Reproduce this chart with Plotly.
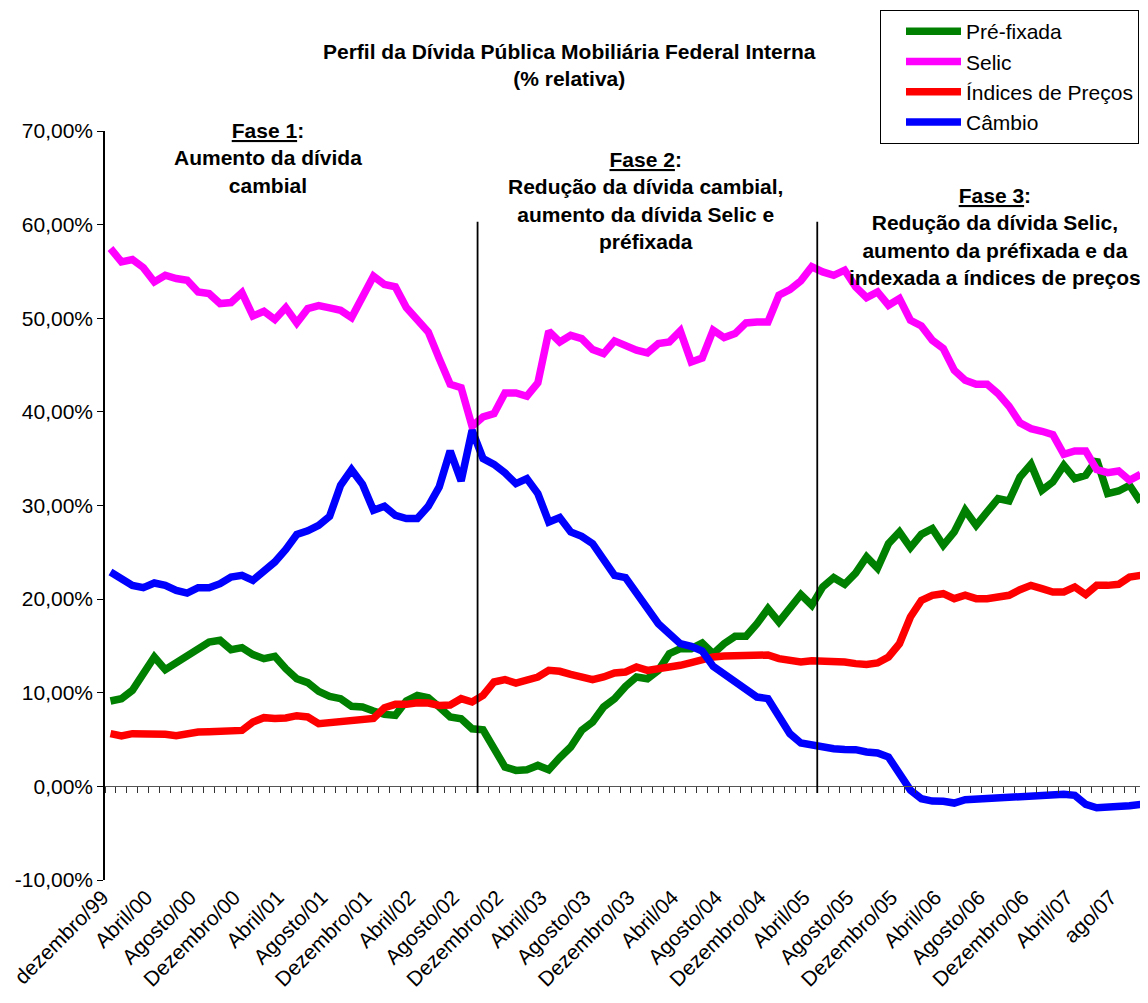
import plotly.graph_objects as go

# ---------------- data ----------------
MONTH_NAMES = ["jan", "fev", "mar", "abr", "mai", "jun", "jul", "ago", "set", "out", "nov", "dez"]
months = ["dez/99"] + [f"{MONTH_NAMES[m]}/{str(y)[2:]}" for y in range(2000, 2008) for m in range(12)]
months = months[:95]  # dez/99 .. out/07

TICK_LABELS = ["dezembro/99", "Abril/00", "Agosto/00", "Dezembro/00", "Abril/01", "Agosto/01",
               "Dezembro/01", "Abril/02", "Agosto/02", "Dezembro/02", "Abril/03", "Agosto/03",
               "Dezembro/03", "Abril/04", "Agosto/04", "Dezembro/04", "Abril/05", "Agosto/05",
               "Dezembro/05", "Abril/06", "Agosto/06", "Dezembro/06", "Abril/07", "ago/07"]

Y_TICKS = [-10, 0, 10, 20, 30, 40, 50, 60, 70]

pre_fixada = [9.12, 9.37, 10.26, 12.22, 13.82, 12.46, 13.18, 13.82, 14.71, 15.42,
              15.60, 14.60, 14.82, 14.07, 13.64, 13.89, 12.57, 11.50, 11.08, 10.15,
              9.62, 9.37, 8.55, 8.48, 8.05, 7.69, 7.59, 9.12, 9.72, 9.47,
              8.48, 7.41, 7.23, 6.15, 6.05, 4.20, 2.07, 1.71, 1.78, 2.24,
              1.78, 3.06, 4.20, 5.98, 6.87, 8.48, 9.37, 10.68, 11.68, 11.50,
              12.39, 14.17, 14.71, 14.71, 15.31, 14.17, 15.24, 16.03, 16.03, 17.38,
              18.98, 17.56, 19.16, 20.48, 19.34, 21.30, 22.29, 21.58, 22.79, 24.50,
              23.30, 25.93, 27.17, 25.50, 26.92, 27.53, 25.75, 27.17, 29.49, 27.88,
              29.31, 30.73, 30.48, 33.05, 34.40, 31.62, 32.51, 34.29, 32.87, 33.23,
              34.90, 31.27, 31.55, 32.16, 30.38]

selic = [57.45, 56.02, 56.27, 55.41, 53.88, 54.59, 54.24, 54.06, 52.81, 52.63,
         51.57, 51.67, 52.74, 50.25, 50.75, 49.86, 51.14, 49.50, 51.03, 51.35,
         51.10, 50.85, 50.07, 52.10, 54.49, 53.60, 53.35, 51.14, 49.86, 48.54,
         45.69, 42.95, 42.59, 38.45, 39.46, 39.81, 42.02, 42.02, 41.67, 43.09,
         48.61, 47.47, 48.18, 47.83, 46.65, 46.22, 47.58, 47.01, 46.58, 46.30,
         47.30, 47.47, 48.65, 45.33, 45.76, 48.72, 47.93, 48.36, 49.50, 49.61,
         49.61, 52.46, 53.06, 53.99, 55.50, 54.95, 54.59, 55.13, 53.35, 52.21,
         52.81, 51.39, 52.10, 49.79, 49.18, 47.65, 46.76, 44.44, 43.38, 42.95,
         42.95, 41.95, 40.60, 38.82, 38.21, 37.93, 37.57, 35.47, 35.82, 35.82,
         33.83, 33.51, 33.69, 32.69, 33.33]

indices_precos = [5.63, 5.38, 5.63, 5.63, 5.70, 5.56, 5.41, 5.63, 5.80, 5.84,
                  5.88, 5.91, 5.98, 6.87, 7.34, 7.26, 7.30, 7.55, 7.41, 6.70,
                  6.84, 6.87, 6.98, 7.23, 7.26, 8.40, 8.76, 8.76, 8.94, 8.90,
                  8.65, 8.69, 9.37, 9.01, 9.72, 11.15, 11.40, 11.04, 11.43, 11.68,
                  12.39, 12.29, 11.97, 11.61, 11.40, 11.68, 12.11, 12.22, 12.75, 12.39,
                  12.57, 12.57, 12.93, 13.21, 13.53, 13.82, 13.92, 13.96, 13.96, 14.03,
                  14.03, 13.64, 13.46, 13.28, 13.42, 13.42, 13.46, 13.28, 13.11, 13.03,
                  13.18, 13.82, 15.24, 18.09, 19.87, 20.41, 20.58, 20.05, 20.41, 20.05,
                  20.05, 20.16, 20.41, 21.01, 21.47, 21.12, 20.76, 20.76, 21.30, 20.48,
                  21.47, 21.47, 21.58, 22.36, 22.54]

cambio = [22.90, 22.19, 21.47, 21.22, 21.72, 21.47, 20.94, 20.65, 21.22, 21.22,
          21.65, 22.36, 22.54, 22.01, 22.90, 23.97, 25.30, 26.90, 27.30, 27.88,
          28.85, 32.16, 33.83, 32.26, 29.49, 29.91, 28.95, 28.60, 28.60, 29.91,
          31.98, 35.83, 32.62, 38.03, 35.01, 34.40, 33.48, 32.34, 32.87, 31.27,
          28.24, 28.71, 27.17, 26.71, 25.93, 24.40, 22.54, 22.29, 20.58, 19.16,
          17.38, 16.31, 15.24, 14.96, 14.46, 12.82, 11.97, 11.25, 10.26, 9.54,
          9.37, 7.41, 5.63, 4.63, 4.40, 4.10, 4.02, 3.95, 3.92, 3.67,
          3.56, 3.13, 1.35, -0.40, -1.32, -1.57, -1.60, -1.78, -1.42, -1.35,
          -1.32, -1.21, -1.03, -0.96, -0.93, -0.89, -0.85, -0.85, -0.96, -1.92,
          -2.28, -2.21, -2.28, -2.07, -1.92]

SERIES = [("Pré-fixada", pre_fixada, "#008000"),
          ("Selic", selic, "#FF00FF"),
          ("Índices de Preços", indices_precos, "#FF0000"),
          ("Câmbio", cambio, "#0000FF")]

PHASE_BOUNDARIES = ["set/02", "abr/05"]  # vertical lines drawn just after these months

# ---------------- layout geometry ----------------
OFF = 8                      # page body margin added by the browser
W, H = 1148 - OFF, 1003 - OFF
L, T = 105 - OFF, 131 - OFF
R = W - (1146 - OFF)
B = H - (880 - OFF)
PW, PH = W - L - R, H - T - B
FONT = "Arial, Liberation Sans, sans-serif"


def px_x(px):
    return (px - OFF - L) / PW


def px_y(py):
    return (H - B - (py - OFF)) / PH


fig = go.Figure()
for i, (name, vals, col) in enumerate(SERIES):
    fig.add_trace(go.Scatter(x=months, y=vals, name=name, mode="lines",
                             line=dict(color=col, width=7.5),
                             legendgroup=f"g{i}"))

# overlay axis carrying the zero line with category tick marks
fig.add_trace(go.Scatter(x=[], y=[], xaxis="x2", showlegend=False, hoverinfo="skip"))

ymin, ymax = Y_TICKS[0], Y_TICKS[-1]
zero_pos = (0 - ymin) / (ymax - ymin)

fig.update_layout(
    width=W, height=H,
    margin=dict(l=L, r=R, t=T, b=B, autoexpand=False),
    paper_bgcolor="white", plot_bgcolor="white",
    font=dict(family=FONT, size=21, color="black"),
    showlegend=True,
    legend=dict(xref="container", yref="container",
                x=(880 - OFF) / W, y=1 - (10 - OFF) / H, xanchor="left", yanchor="top",
                bordercolor="black", borderwidth=1, bgcolor="white",
                font=dict(size=21), tracegroupgap=9, itemwidth=55,
                indentation=20, traceorder="normal"),
    xaxis=dict(type="category", categoryorder="array", categoryarray=months,
               range=[-0.5, len(months) - 0.5],
               tickmode="array", tickvals=months[::4], ticktext=TICK_LABELS,
               tickangle=-45, showline=False, ticks="", showgrid=False,
               ticklabelshift=-8,
               zeroline=False, automargin=False, tickfont=dict(size=21)),
    xaxis2=dict(overlaying="x", anchor="free", position=zero_pos, side="bottom",
                range=[-0.5, len(months) - 0.5], tickmode="linear", tick0=-0.5, dtick=1,
                ticks="outside", ticklen=6, tickwidth=1, tickcolor="#333",
                showline=True, linecolor="#555", linewidth=1.2,
                showticklabels=False, showgrid=False, zeroline=False),
    yaxis=dict(range=[ymin, ymax], tickmode="array", tickvals=Y_TICKS,
               ticktext=[f"{v:.2f}".replace(".", ",") + "%" for v in Y_TICKS],
               showline=True, linecolor="black", linewidth=1.5,
               ticks="outside", ticklen=6, tickcolor="black",
               showgrid=False, zeroline=False, automargin=False,
               tickfont=dict(size=21)),
)

# phase separation lines
for m in PHASE_BOUNDARIES:
    xi = months.index(m) + 0.5
    fig.add_shape(type="line", xref="x", yref="y", x0=xi, x1=xi, y0=-0.7, y1=60.3,
                  line=dict(color="black", width=1.8))

annots = [
    ("<b>Perfil da Dívida Pública Mobiliária Federal Interna</b><br><b>(% relativa)</b>", 569, 65),
    ("<b><u>Fase 1</u>:</b><br><b>Aumento da dívida</b><br><b>cambial</b>", 268, 158),
    ("<b><u>Fase 2</u>:</b><br><b>Redução da dívida cambial,</b><br><b>aumento da dívida Selic e</b><br><b>préfixada</b>", 645, 200.5),
    ("<b><u>Fase 3</u>:</b><br><b>Redução da dívida Selic,</b><br><b>aumento da préfixada e da</b><br><b>indexada a índices de preços</b>", 995, 236),
]
for txt, ax, ay in annots:
    fig.add_annotation(text=txt, xref="paper", yref="paper", x=px_x(ax), y=px_y(ay),
                       xanchor="center", yanchor="middle", showarrow=False,
                       align="center", font=dict(size=21, family=FONT, color="black"))

fig.write_html("out.html")
